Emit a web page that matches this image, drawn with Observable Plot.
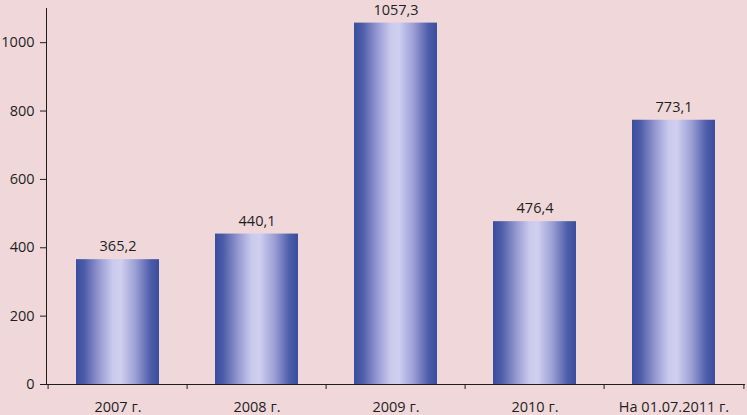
<!DOCTYPE html>
<html>
<head>
<meta charset="utf-8">
<script src="https://cdn.jsdelivr.net/npm/d3@7"></script>
<script src="https://cdn.jsdelivr.net/npm/@observablehq/plot@0.6"></script>
<style>
  html, body { margin: 0; padding: 0; background: #f0d8da; }
  #chart svg { display: block; background: #f0d8da; }
</style>
</head>
<body>
<div id="chart"></div>
<script>
const categories = ["2007 г.", "2008 г.", "2009 г.", "2010 г.", "На 01.07.2011 г."];
const values = [365.2, 440.1, 1057.3, 476.4, 773.1];
const labels = ["365,2", "440,1", "1057,3", "476,4", "773,1"];
const yTicks = [0, 200, 400, 600, 800, 1000];

const data = categories.map((c, i) => ({category: c, value: values[i], label: labels[i]}));

const W = 747, H = 415, mL = 46, mR = 2, mT = 8, mB = 31;
const step = (W - mL - mR) / categories.length;
const ink = "#1e1e1e";

const defs = () => {
  const d = d3.create("svg:defs");
  const g = d.append("linearGradient").attr("id", "barGrad").attr("x1", "0").attr("x2", "1").attr("y1", "0").attr("y2", "0");
  [["0%", "#3a4d9e"], ["10%", "#4d5ca8"], ["28%", "#9699d1"], ["44%", "#cacaed"], ["54%", "#cfcff0"], ["72%", "#9a9ed4"], ["90%", "#4c5ca8"], ["100%", "#3a4d9e"]]
    .forEach(([o, c]) => g.append("stop").attr("offset", o).attr("stop-color", c));
  return d.node();
};

const chart = Plot.plot({
  width: W, height: H,
  marginLeft: mL, marginRight: mR, marginTop: mT, marginBottom: mB,
  style: {background: "#f0d8da", fontFamily: "'Open Sans', sans-serif", fontSize: "14.5px", color: ink},
  x: {domain: categories, paddingInner: 0.4, paddingOuter: 0.2, label: null},
  y: {domain: [0, 1100], label: null},
  marks: [
    defs,
    Plot.barY(data, {x: "category", y: "value", fill: "url(#barGrad)"}),
    Plot.text(data, {x: "category", y: "value", text: "label", dy: -13, fill: ink, fontSize: 14.5}),
    Plot.axisY({ticks: yTicks, tickFormat: d => String(d), tickSize: 6, tickPadding: 6, stroke: ink, fill: ink, label: null}),
    Plot.axisX({tickSize: 0, tickPadding: 17, fill: ink, label: null}),
    Plot.frame({anchor: "left", stroke: ink}),
    Plot.ruleY([0], {stroke: ink}),
    Plot.ruleX(categories, {x: d => d, dx: -step / 2, y1: 0, y2: 0, insetBottom: -5, stroke: ink}),
    Plot.ruleX(categories.slice(-1), {x: d => d, dx: step / 2, y1: 0, y2: 0, insetBottom: -5, stroke: ink})
  ]
});
document.getElementById("chart").appendChild(chart);
</script>
</body>
</html>
